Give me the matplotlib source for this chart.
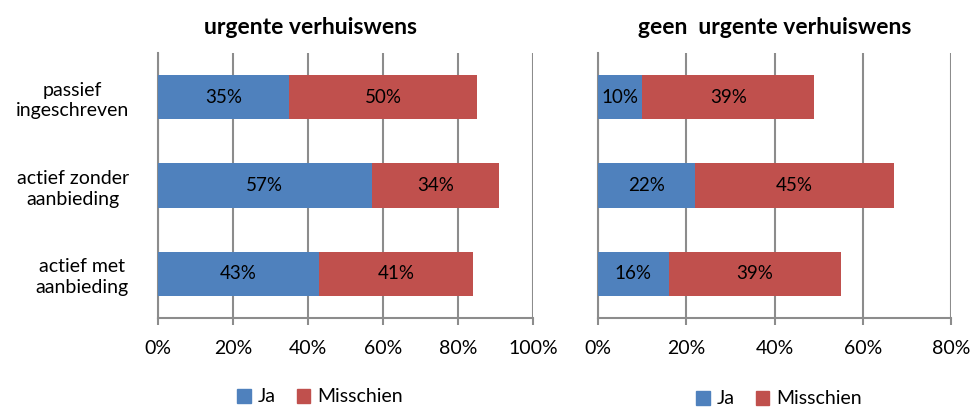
import matplotlib.pyplot as plt
from matplotlib.patches import Patch

categories = ['passief\ningeschreven', 'actief zonder\naanbieding', 'actief met\naanbieding']
urgent_ja = [35, 57, 43]
urgent_misschien = [50, 34, 41]
geen_ja = [10, 22, 16]
geen_misschien = [39, 45, 39]

BLUE = '#4F81BD'
RED = '#C0504D'
GRID = '#8C8C8C'
FONT = 'Lato'

plt.rcParams['font.family'] = [FONT, 'DejaVu Sans']

fig = plt.figure(figsize=(9.73, 4.09), dpi=100)
ax1 = fig.add_axes([158/973, 1 - 318/409, 375/973, 265/409])
ax2 = fig.add_axes([598/973, 1 - 318/409, 353/973, 265/409])


def draw(ax, ja, mis, xmax, show_labels):
    y = list(range(len(categories)))
    b1 = ax.barh(y, ja, height=0.5, color=BLUE, zorder=3)
    b2 = ax.barh(y, mis, left=ja, height=0.5, color=RED, zorder=3)
    for bars, vals in ((b1, ja), (b2, mis)):
        for rect, v in zip(bars, vals):
            ax.text(rect.get_x() + rect.get_width() / 2, rect.get_y() + rect.get_height() / 2,
                    '%d%%' % v, ha='center', va='center', fontsize=13.5, zorder=4)
    ax.set_xlim(0, xmax)
    ax.set_ylim(2.5, -0.5)
    ticks = list(range(0, xmax + 1, 20))
    ax.set_xticks(ticks)
    ax.set_xticklabels(['%d%%' % t for t in ticks], fontsize=14)
    ax.xaxis.grid(True, color=GRID, linewidth=1.5, zorder=0)
    ax.set_yticks(y)
    if show_labels:
        ax.set_yticklabels(categories, fontsize=14, multialignment='center',
                           linespacing=1.25)
    else:
        ax.set_yticklabels([])
    ax.tick_params(axis='y', length=0, pad=21)
    ax.tick_params(axis='x', length=5, width=1.5, color=GRID, pad=11)
    for s in ('top', 'right'):
        ax.spines[s].set_visible(False)
    for s in ('left', 'bottom'):
        ax.spines[s].set_color(GRID)
        ax.spines[s].set_linewidth(1.5)


draw(ax1, urgent_ja, urgent_misschien, 100, True)
draw(ax2, geen_ja, geen_misschien, 80, False)

fig.text(311/973, 1 - 28/409, 'urgente verhuiswens', ha='center', va='center',
         fontsize=16.5, fontweight='bold')
fig.text(775/973, 1 - 28/409, 'geen  urgente verhuiswens', ha='center', va='center',
         fontsize=16.5, fontweight='bold')

handles = [Patch(color=BLUE, label='Ja'), Patch(color=RED, label='Misschien')]
for cx, cy in ((320, 397), (779, 399)):
    fig.legend(handles=handles, loc='center', bbox_to_anchor=(cx/973, 1 - cy/409),
               ncol=2, frameon=False, fontsize=14, handlelength=0.7, handleheight=0.7,
               handletextpad=0.35, columnspacing=1.1, borderpad=0.1)

fig.savefig('out.png', dpi=100)
